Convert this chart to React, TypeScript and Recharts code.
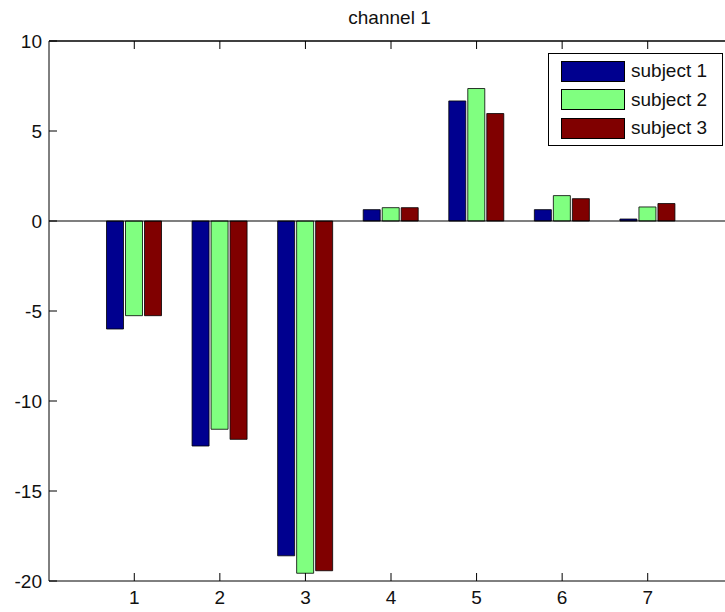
import React from 'react';
import {
    BarChart,
    Bar,
    XAxis,
    YAxis,
    ReferenceLine,
    Legend
} from 'recharts';

const categories = ['1', '2', '3', '4', '5', '6', '7'];
const subject1 = [-6.0, -12.5, -18.6, 0.63, 6.67, 0.63, 0.11];
const subject2 = [-5.26, -11.57, -19.57, 0.74, 7.36, 1.41, 0.78];
const subject3 = [-5.26, -12.13, -19.43, 0.74, 5.97, 1.24, 0.97];
const seriesNames = ['subject 1', 'subject 2', 'subject 3'];
const seriesColors = ['#00008f', '#80ff80', '#800000'];
const yTicks = [-20, -15, -10, -5, 0, 5, 10];

const data = categories.map((c, i) => ({
    name: c,
    s1: subject1[i],
    s2: subject2[i],
    s3: subject3[i]
}));

const FONT = '"Liberation Sans", Arial, sans-serif';
const FONT_SIZE = 19;
const TEXT = '#111';
const TICK_LEN = 8;
const PLOT_TOP = 41;

// matlab draws ticks pointing into the plot, so the tick line is drawn here with the label
const LeftTick = (props: any) => {
    const { x, y, payload } = props;
    return (
        <g>
            <line x1={x + 7} x2={x + 7 + TICK_LEN} y1={y} y2={y} stroke="#000" />
            <text x={x} y={y} dy="0.35em" textAnchor="end" fill={TEXT} fontSize={FONT_SIZE} fontFamily={FONT}>
                {payload.value}
            </text>
        </g>
    );
};

// bottom tick also mirrors a tick onto the top edge of the box
const BottomTick = (props: any) => {
    const { x, y, payload } = props;
    return (
        <g>
            <line x1={x} x2={x} y1={y - 8} y2={y - 8 - TICK_LEN} stroke="#000" />
            <line x1={x} x2={x} y1={PLOT_TOP} y2={PLOT_TOP + TICK_LEN} stroke="#000" />
            <text x={x} y={y} dy="0.8em" textAnchor="middle" fill={TEXT} fontSize={FONT_SIZE} fontFamily={FONT}>
                {payload.value}
            </text>
        </g>
    );
};

// legend box in the top right corner
const LegendBox = () => (
    <div
        style={{
            position: 'absolute',
            left: 548,
            top: 53,
            width: 175,
            height: 93,
            border: '1px solid #000',
            background: '#fff',
            boxSizing: 'border-box',
            fontFamily: FONT,
            fontSize: FONT_SIZE,
            color: TEXT
        }}
    >
        {seriesNames.map((n, i) => (
            <div
                key={n}
                style={{ position: 'absolute', left: 12, top: 6 + i * 28.7, height: 22, display: 'flex', alignItems: 'center' }}
            >
                <div
                    style={{
                        width: 64,
                        height: 21,
                        background: seriesColors[i],
                        border: '1px solid #000',
                        boxSizing: 'border-box'
                    }}
                />
                <span style={{ marginLeft: 6, whiteSpace: 'nowrap' }}>{n}</span>
            </div>
        ))}
    </div>
);

export default function App() {
    return (
        <div
            style={{
                position: 'absolute',
                left: 0,
                top: 0,
                width: 725,
                height: 612,
                overflow: 'hidden',
                background: '#fff'
            }}
        >
            <div
                style={{
                    position: 'absolute',
                    left: 0,
                    width: 779,
                    top: 7,
                    textAlign: 'center',
                    fontFamily: FONT,
                    fontSize: FONT_SIZE,
                    color: TEXT
                }}
            >
                channel 1
            </div>
            <BarChart
                width={740}
                height={612}
                data={data}
                margin={{ top: PLOT_TOP, right: 7, bottom: 0, left: 0 }}
                barGap={2}
                barSize={17}
            >
                <XAxis
                    dataKey="name"
                    height={31}
                    padding={{ left: 42.5, right: 42.5 }}
                    stroke="#000"
                    tickLine={false}
                    tickSize={0}
                    tickMargin={8}
                    tick={<BottomTick />}
                    interval={0}
                />
                <YAxis
                    width={49}
                    domain={[-20, 10]}
                    ticks={yTicks}
                    allowDataOverflow
                    stroke="#000"
                    tickLine={false}
                    tickSize={0}
                    tickMargin={7}
                    tick={<LeftTick />}
                    interval={0}
                />
                <ReferenceLine y={10} stroke="#000" strokeWidth={1.5} ifOverflow="extendDomain" />
                <ReferenceLine y={0} stroke="#000" strokeWidth={1.2} />
                <Bar dataKey="s1" name={seriesNames[0]} fill={seriesColors[0]} stroke="#000" strokeWidth={0.8} isAnimationActive={false} />
                <Bar dataKey="s2" name={seriesNames[1]} fill={seriesColors[1]} stroke="#000" strokeWidth={0.8} isAnimationActive={false} />
                <Bar dataKey="s3" name={seriesNames[2]} fill={seriesColors[2]} stroke="#000" strokeWidth={0.8} isAnimationActive={false} />
                <Legend content={() => null} />
            </BarChart>
            <LegendBox />
        </div>
    );
}
